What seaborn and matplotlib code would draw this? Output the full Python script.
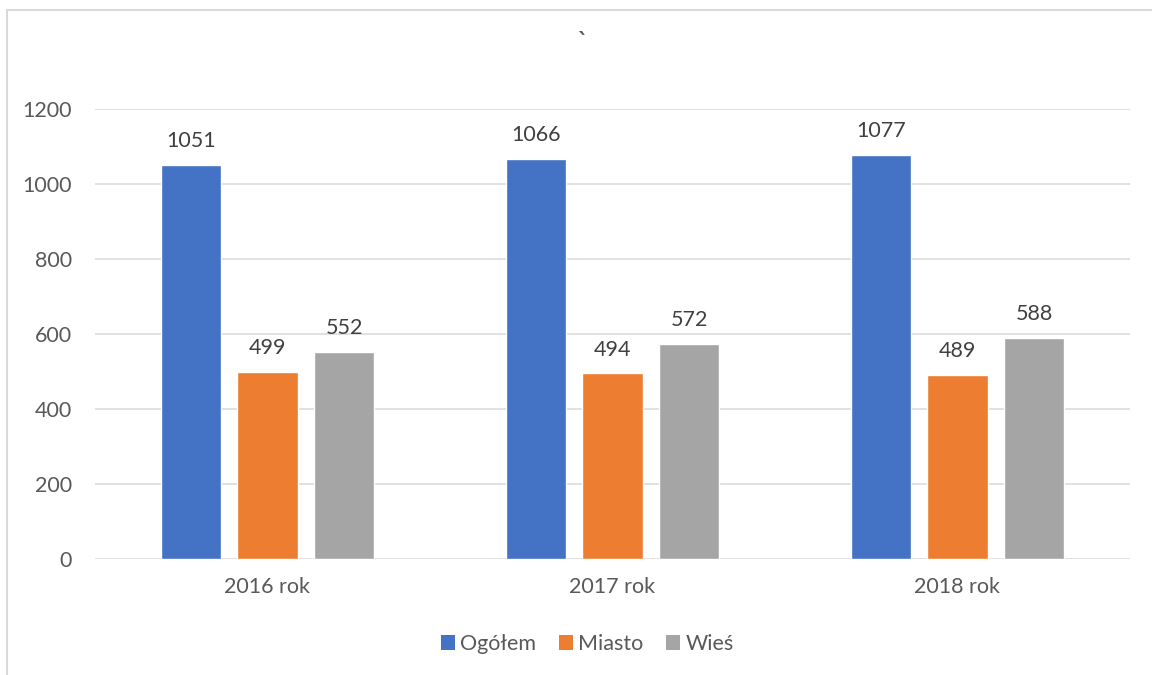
import matplotlib
matplotlib.use("Agg")
import matplotlib.pyplot as plt
import matplotlib.patches as mpatches
from matplotlib.lines import Line2D
import seaborn as sns
import pandas as pd

categories = ["2016 rok", "2017 rok", "2018 rok"]
series_names = ["Ogółem", "Miasto", "Wieś"]
ogolem = [1051, 1066, 1077]
miasto = [499, 494, 489]
wies = [552, 572, 588]
colors = ["#4472C4", "#ED7D31", "#A5A5A5"]
y_ticks = [0, 200, 400, 600, 800, 1000, 1200]
title_text = "`"

rows = []
for name, vals in zip(series_names, [ogolem, miasto, wies]):
    for cat, v in zip(categories, vals):
        rows.append({"kategoria": cat, "seria": name, "wartosc": v})
df = pd.DataFrame(rows)

sns.set_theme(style="white")
plt.rcParams["font.family"] = ["Lato", "DejaVu Sans"]

W, H = 1152, 675
fig = plt.figure(figsize=(W / 100, H / 100), dpi=100)
left, right, bottom, top = 95, 1130, 558.7, 108.7
ax = fig.add_axes([left / W, 1 - bottom / H, (right - left) / W, (bottom - top) / H])

sns.barplot(data=df, x="kategoria", y="wartosc", hue="seria", order=categories,
            hue_order=series_names, palette=colors, width=0.665, gap=0.215,
            errorbar=None, ax=ax, legend=False, saturation=1)

ax.set_ylim(0, 1200)
ax.set_xlim(-0.5, 2.5)
ax.set_yticks(y_ticks)
ax.set_yticklabels([str(t) for t in y_ticks])
ax.yaxis.grid(True, color="#D9D9D9", linewidth=1.1)
ax.set_axisbelow(True)
for s in ax.spines.values():
    s.set_visible(False)
ax.set_xlabel("")
ax.set_ylabel("")
ax.tick_params(axis="y", length=0, pad=16.5, labelsize=15.5, labelcolor="#595959")
ax.tick_params(axis="x", length=0, pad=13.5, labelsize=15.5, labelcolor="#595959")

for cont in ax.containers:
    ax.bar_label(cont, fmt="%d", padding=10, fontsize=15.5, color="#404040")

fig.text(582 / W, 1 - 44 / H, title_text, ha="center", va="center", fontsize=21, color="#595959")

handles = [mpatches.Patch(facecolor=c, edgecolor="none", label=n) for c, n in zip(colors, series_names)]
fig.legend(handles=handles, loc="center", bbox_to_anchor=(587.5 / W, 1 - 644 / H), ncol=3,
           frameon=False, fontsize=15.5, handlelength=0.65, handleheight=0.65,
           handletextpad=0.25, columnspacing=1.05, labelcolor="#595959")

bc = "#D9D9D9"
fig.add_artist(Line2D([7 / W, 1.0], [1 - 9.5 / H, 1 - 9.5 / H], transform=fig.transFigure, color=bc, linewidth=1.5))
fig.add_artist(Line2D([7 / W, 7 / W], [0, 1 - 9.5 / H], transform=fig.transFigure, color=bc, linewidth=1.5))

fig.savefig("out.png", dpi=100)
